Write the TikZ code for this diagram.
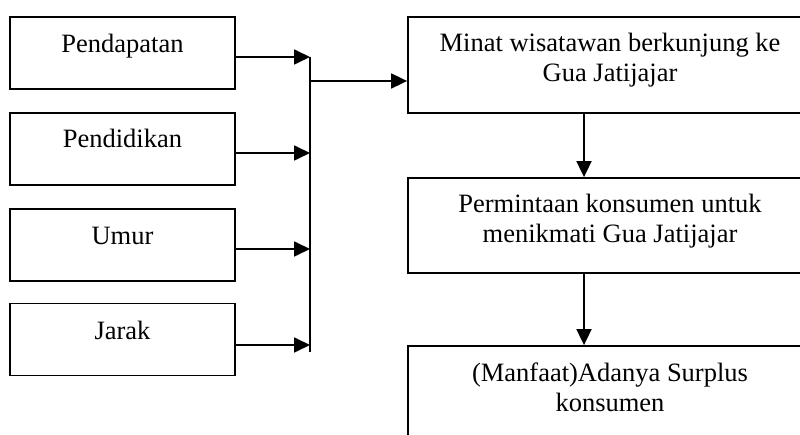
\documentclass[tikz,border=0pt]{standalone}
\usepackage{fontspec}
\setmainfont{Liberation Serif}
\usetikzlibrary{arrows.meta}
\tikzset{
  lbox/.style={draw, line width=1.8pt, minimum width=225pt, minimum height=72pt, inner sep=0pt},
  rbox/.style={draw, line width=1.8pt, minimum width=404pt, inner sep=0pt},
  txt/.style={inner sep=0pt, anchor=base, align=center, font=\fontsize{26.5}{30}\selectfont},
  conn/.style={line width=1.8pt},
  arr/.style={line width=1.8pt, -{Triangle[length=16pt, width=15pt]}}
}
\begin{document}
\begin{tikzpicture}[x=1pt, y=-1pt]
\useasboundingbox (0,0) rectangle (800,435);
\clip (0,0) rectangle (800,435);
% left boxes
\node[lbox] (b1) at (122.5,53) {};
\node[lbox] (b2) at (122.5,149) {};
\node[lbox] (b3) at (122.5,245) {};
\node[lbox] (b4) at (122.5,339.5) {};
\node[txt] (t1) at (122.5,53) {Pendapatan};
\node[txt] (t2) at (122.5,148) {Pendidikan};
\node[txt] (t3) at (122.5,245) {Umur};
\node[txt] (t4) at (122.5,340) {Jarak};
% right boxes
\node[rbox, minimum height=96pt] (r1) at (610,65) {};
\node[rbox, minimum height=95pt] (r2) at (610,225.5) {};
\node[rbox, minimum height=100pt] (r3) at (610,396) {};
\node[txt] (s1) at (610,82) {Minat wisatawan berkunjung ke\\Gua Jatijajar};
\node[txt] (s2) at (610,243) {Permintaan konsumen untuk\\menikmati Gua Jatijajar};
\node[txt] (s3) at (610,411) {(Manfaat)Adanya Surplus\\konsumen};
% bus
\coordinate (bustop) at (310,57);
\coordinate (busbot) at (310,352);
\coordinate (busmid) at (310,81);
\coordinate (vx) at (584,0);
\draw[conn] (bustop) -- (busbot);
\draw[arr] ([yshift=-4pt]b1.east) -- ([yshift=-4pt]b1.east -| bustop);
\draw[arr] ([yshift=-4pt]b2.east) -- ([yshift=-4pt]b2.east -| bustop);
\draw[arr] ([yshift=-4pt]b3.east) -- ([yshift=-4pt]b3.east -| bustop);
\draw[arr] ([yshift=-5.5pt]b4.east) -- ([yshift=-5.5pt]b4.east -| bustop);
\draw[arr] (busmid) -- (busmid -| r1.west);
\draw[arr] (vx |- r1.south) -- (vx |- r2.north);
\draw[arr] (vx |- r2.south) -- (vx |- r3.north);
\end{tikzpicture}
\end{document}
